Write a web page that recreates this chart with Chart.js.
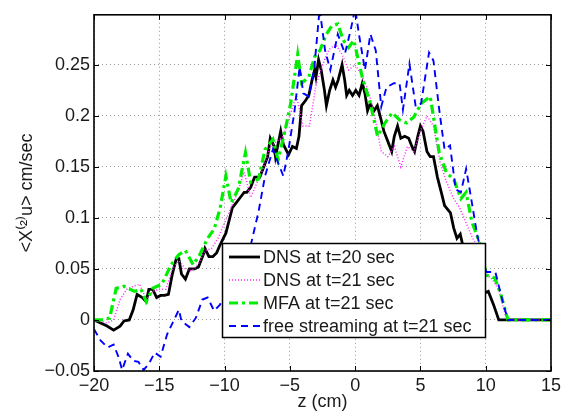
<!DOCTYPE html>
<html><head><meta charset="utf-8">
<script src="https://cdn.jsdelivr.net/npm/chart.js@4/dist/chart.umd.min.js"></script>
<style>html,body{margin:0;padding:0;background:#fff}#wrap{width:565px;height:411px}</style>
</head><body><div id="wrap"><canvas id="c" width="565" height="411"></canvas></div>
<script>
const xTicks=[-20,-15,-10,-5,0,5,10,15];
const yTicks=[-0.05,0,0.05,0.1,0.15,0.2,0.25];
const seriesLabels=['DNS at t=20 sec','DNS at t=21 sec','MFA at t=21 sec','free streaming at t=21 sec'];

const zDns20=[-20,-19.5,-19,-18.5,-18,-17.7,-17.3,-17,-16.7,-16.3,
-16,-15.8,-15.5,-15.2,-14.9,-14.6,-14.3,-14,-13.7,-13.5,
-13.3,-13,-12.7,-12.3,-12,-11.6,-11.5,-11.2,-10.9,-10.6,
-10.4,-10.1,-9.9,-9.6,-9.4,-9.1,-8.8,-8.5,-8.3,-8,
-7.7,-7.3,-7,-6.7,-6.5,-6.2,-6.1,-5.7,-5.5,-5.1,
-4.8,-4.5,-4.3,-4.1,-3.8,-3.55,-3.3,-3.1,-3,-2.8,
-2.6,-2.35,-2.2,-1.95,-1.7,-1.5,-1.3,-1,-0.8,-0.65,
-0.45,-0.2,0.05,0.3,0.55,0.75,0.95,1.15,1.45,1.7,
1.95,2.2,2.5,2.8,3,3.25,3.5,3.8,4.1,4.35,
4.55,4.8,5,5.2,5.5,5.75,6,6.3,6.6,6.85,
7.3,7.55,7.8,8.05,8.3,8.7,9.1,9.5,9.8,10.2,
10.6,11,15];
const dns20=[0,-0.003,-0.006,-0.01,-0.006,-0.001,0,0.01,0.025,0.022,
0.018,0.03,0.03,0.022,0.024,0.024,0.025,0.045,0.06,0.06,
0.045,0.04,0.05,0.05,0.052,0.065,0.07,0.062,0.062,0.066,
0.072,0.08,0.085,0.1,0.11,0.115,0.12,0.125,0.125,0.13,
0.14,0.14,0.15,0.16,0.178,0.17,0.16,0.185,0.172,0.162,
0.17,0.168,0.18,0.21,0.215,0.22,0.235,0.245,0.238,0.255,
0.245,0.225,0.21,0.225,0.235,0.228,0.235,0.25,0.235,0.22,
0.225,0.22,0.225,0.22,0.232,0.222,0.205,0.212,0.205,0.21,
0.198,0.185,0.175,0.165,0.18,0.19,0.178,0.18,0.178,0.17,
0.165,0.18,0.19,0.185,0.165,0.16,0.16,0.14,0.125,0.112,
0.105,0.09,0.08,0.084,0.07,0.06,0.045,0.032,0.026,0.028,
0.015,0,0];

const zDns21=[-20,-19,-18.5,-18,-17.5,-17,-16.5,-16,-15.5,-15,
-14.5,-14,-13.5,-13,-12.5,-12,-11.5,-11,-10.5,-10,
-9.5,-9,-8.5,-8,-7.5,-7,-6.5,-6,-5.5,-5,
-4.5,-4,-3.5,-3,-2.5,-2,-1.5,-1,-0.5,0,
0.5,1,1.5,2,2.5,3,3.5,4,4.5,5,
5.5,6,6.5,7,7.5,8,8.5,9,9.5,10,
10.5,11,11.5,12,15];
const dns21=[0,-0.003,0,0.02,0.03,0.033,0.035,0.02,0.028,0.03,
0.03,0.05,0.058,0.05,0.048,0.055,0.068,0.07,0.08,0.095,
0.11,0.125,0.145,0.12,0.135,0.15,0.17,0.175,0.18,0.2,
0.22,0.19,0.19,0.23,0.25,0.265,0.27,0.26,0.245,0.25,
0.24,0.225,0.2,0.165,0.16,0.17,0.15,0.17,0.165,0.185,
0.2,0.19,0.155,0.135,0.12,0.11,0.095,0.08,0.07,0.045,
0.04,0.03,0.005,0,0];

const zMfa=[-20,-19.3,-18.8,-18.3,-17.7,-16.9,-16.4,-16,-15.5,-14.8,
-14.1,-13.5,-13,-12.4,-11.9,-11.3,-10.8,-10.35,-9.9,-9.5,
-8.96,-8.4,-8,-7.4,-6.9,-6.3,-5.9,-5.36,-4.94,-4.4,
-4.1,-3.55,-3.1,-2.7,-2.2,-1.8,-1.33,-0.9,-0.5,-0.1,
0.2,0.6,1.17,1.72,2.28,2.83,3.4,3.94,4.5,5.05,
5.75,6.16,6.44,7,7.55,8.1,8.5,8.94,9.5,10.05,
10.7,11.16,11.7,15];
const mfa=[0,0,0.002,0.031,0.033,0.028,0.03,0.018,0.031,0.035,
0.054,0.064,0.068,0.054,0.064,0.08,0.089,0.109,0.141,0.115,
0.128,0.164,0.135,0.138,0.167,0.177,0.157,0.186,0.212,0.26,
0.232,0.238,0.258,0.264,0.28,0.288,0.29,0.274,0.267,0.274,
0.257,0.235,0.212,0.18,0.193,0.203,0.196,0.193,0.199,0.212,
0.219,0.186,0.164,0.144,0.138,0.119,0.125,0.096,0.077,0.044,
0.041,0.025,0,0];

const zFree=[-20,-19.5,-18.96,-18.5,-18.1,-17.85,-17.4,-17,-16.6,-16.2,
-15.8,-15.35,-14.9,-14.4,-13.8,-13.5,-13.3,-12.7,-12.2,-11.7,
-11.3,-10.8,-10.35,-9.8,-9.3,-8.7,-8,-7.4,-6.9,-6.3,
-5.9,-5.5,-5.1,-4.66,-4.25,-3.97,-3.55,-3.14,-2.72,-2.3,
-1.9,-1.33,-0.78,-0.36,0,0.33,0.75,1.17,1.58,2,
2.4,2.97,3.4,3.66,4.16,4.64,5.05,5.66,6,6.44,
6.85,7.27,7.7,8.1,8.5,8.94,9.35,9.8,10.05,10.74,
11.3,11.7,15];
const freeStream=[-0.009,-0.02,-0.027,-0.024,-0.037,-0.049,-0.033,-0.04,-0.041,-0.049,
-0.043,-0.032,-0.036,-0.014,0.002,0.01,-0.001,-0.007,0.002,0.02,
0.022,0.009,0.015,0.03,0.045,0.058,0.073,0.106,0.141,0.167,
0.154,0.141,0.167,0.203,0.248,0.222,0.219,0.245,0.305,0.264,
0.245,0.28,0.261,0.283,0.305,0.277,0.245,0.28,0.264,0.209,
0.228,0.232,0.232,0.206,0.251,0.209,0.212,0.262,0.254,0.206,
0.167,0.171,0.128,0.125,0.148,0.115,0.083,0.06,0.047,0.047,
0.018,0,0];

const pts=(xs,ys)=>xs.map((x,i)=>({x:x,y:ys[i]}));
const FONT='"Liberation Sans", Arial, sans-serif';
const fmt=v=>{const r=Math.round(v*100)/100;return (r<0?'\u2212':'')+String(Math.abs(r));};

const styles=[
 {color:'#000000',width:2.8,dash:[]},
 {color:'#ff22ff',width:1.5,dash:[1,2]},
 {color:'#00ee00',width:3.2,dash:[9,4,3,4]},
 {color:'#0000ff',width:1.9,dash:[7,5]}
];
const seriesData=[pts(zDns20,dns20),pts(zDns21,dns21),pts(zMfa,mfa),pts(zFree,freeStream)];

const framePlugin={id:'frame',afterDraw(chart){
 const {ctx,chartArea:a,scales:{x,y}}=chart;
 ctx.save();
 ctx.strokeStyle='#000';ctx.lineWidth=1;ctx.setLineDash([]);
 ctx.beginPath();
 xTicks.forEach(v=>{const p=Math.round(x.getPixelForValue(v))+0.5;ctx.moveTo(p,a.bottom);ctx.lineTo(p,a.bottom-5);ctx.moveTo(p,a.top);ctx.lineTo(p,a.top+5);});
 yTicks.forEach(v=>{const p=Math.round(y.getPixelForValue(v))+0.5;ctx.moveTo(a.left,p);ctx.lineTo(a.left+5,p);ctx.moveTo(a.right,p);ctx.lineTo(a.right-5,p);});
 ctx.stroke();
 ctx.lineWidth=1.6;
 ctx.strokeRect(a.left,a.top,a.right-a.left,a.bottom-a.top);
 const bx=222,by=243,bw=263,bh=94;
 ctx.fillStyle='#fff';ctx.fillRect(bx,by,bw,bh);
 ctx.lineWidth=1.5;ctx.strokeStyle='#000';ctx.strokeRect(bx+0.5,by+0.5,bw,bh);
 ctx.font='18px '+FONT;ctx.textBaseline='middle';ctx.textAlign='left';
 seriesLabels.forEach((lab,i)=>{
  const yy=by+14+i*23;
  const s=styles[i];
  ctx.save();ctx.strokeStyle=s.color;ctx.lineWidth=s.width;ctx.setLineDash(s.dash);
  ctx.beginPath();ctx.moveTo(bx+7,yy);ctx.lineTo(bx+38,yy);ctx.stroke();ctx.restore();
  ctx.fillStyle='#1a1a1a';ctx.fillText(lab,bx+41,yy+1);
 });
 ctx.restore();
}};

new Chart(document.getElementById('c'),{
 type:'line',
 data:{datasets:seriesData.map((d,i)=>({label:seriesLabels[i],data:d,borderColor:styles[i].color,borderWidth:styles[i].width,borderDash:styles[i].dash,pointRadius:0,tension:0,fill:false,order:4-i}))},
 options:{
  responsive:false,animation:false,devicePixelRatio:1,
  layout:{padding:{left:0,right:12,top:10,bottom:0}},
  plugins:{legend:{display:false},tooltip:{enabled:false}},
  scales:{
   x:{type:'linear',min:-20,max:15,
    afterBuildTicks:s=>{s.ticks=xTicks.map(v=>({value:v}));},
    afterFit:s=>{s.height=40;},
    grid:{color:'#999',drawTicks:false,lineWidth:1},
    border:{display:false,dash:[1,3]},
    ticks:{padding:4,color:'#1a1a1a',font:{family:FONT,size:18},callback:v=>fmt(v),maxRotation:0,autoSkip:false},
    title:{display:true,text:'z (cm)',color:'#1a1a1a',font:{family:FONT,size:18,lineHeight:1},padding:{top:0,bottom:0}}
   },
   y:{type:'linear',min:-0.05,max:0.299,
    afterBuildTicks:s=>{s.ticks=yTicks.map(v=>({value:v}));},
    afterFit:s=>{s.width=94;},
    grid:{color:'#999',drawTicks:false,lineWidth:1},
    border:{display:false,dash:[1,3]},
    ticks:{padding:4,color:'#1a1a1a',font:{family:FONT,size:18},callback:v=>fmt(v),autoSkip:false},
    title:{display:true,text:'<X\u207D\u00B2\u207Eu> cm/sec',color:'#1a1a1a',font:{family:FONT,size:18,lineHeight:1.2},padding:{top:16,bottom:0}}
   }
  }
 },
 plugins:[framePlugin]
});
</script></body></html>
